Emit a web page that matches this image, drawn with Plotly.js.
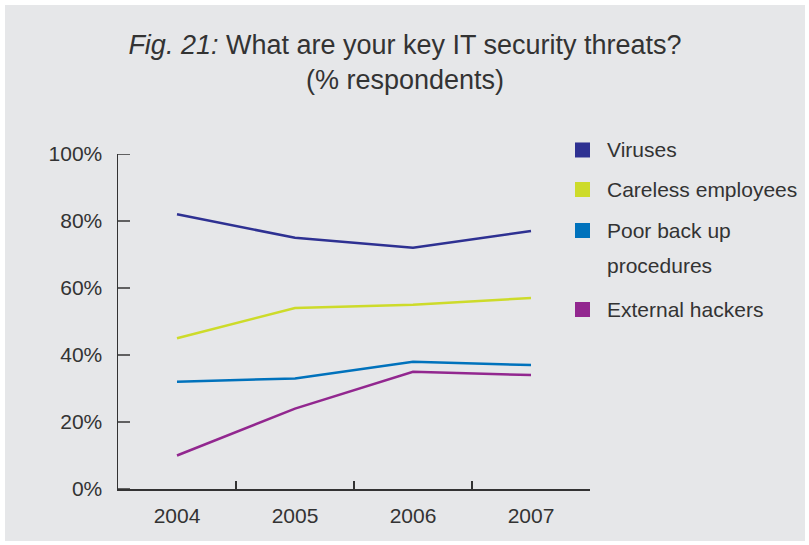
<!DOCTYPE html>
<html>
<head>
<meta charset="utf-8">
<script src="https://cdn.plot.ly/plotly-3.0.1.min.js"></script>
<style>
  html, body { margin: 0; padding: 0; background: #ffffff; }
  #chart { position: absolute; left: 5px; top: 5px; width: 800px; height: 536px; }
</style>
</head>
<body>
<div id="chart"></div>
<script>
// ---- Data ----
const years = ['2004', '2005', '2006', '2007'];
const seriesNames = ['Viruses', 'Careless employees', 'Poor back up procedures', 'External hackers'];
const legendLabels = [['Viruses'], ['Careless employees'], ['Poor back up', 'procedures'], ['External hackers']];
const viruses = [82, 75, 72, 77];
const carelessEmployees = [45, 54, 55, 57];
const poorBackUp = [32, 33, 38, 37];
const externalHackers = [10, 24, 35, 34];
const seriesColors = ['#2e3192', '#cddb2a', '#0072bc', '#92278f'];
const yTicks = [0, 20, 40, 60, 80, 100];

const values = [viruses, carelessEmployees, poorBackUp, externalHackers];
const textColor = '#333333';
const axisColor = '#333333';
const fontFamily = 'Liberation Sans, Arial, sans-serif';

const traces = values.map((v, i) => ({
  type: 'scatter',
  mode: 'lines',
  x: years,
  y: v,
  name: seriesNames[i],
  line: { color: seriesColors[i], width: 2.5 },
  showlegend: false,
  hoverinfo: 'skip'
}));

// Legend built from names/colors (positions in plot-paper fraction)
const legendRowY = [1.012, 0.894, 0.7716, 0.5358];
const lineStep = 0.103;
const annotations = [];
const shapes = [];
legendLabels.forEach((lines, i) => {
  lines.forEach((t, j) => {
    annotations.push({
      xref: 'paper', yref: 'paper',
      x: 1.0318, y: legendRowY[i] - j * lineStep,
      xanchor: 'left', yanchor: 'middle',
      text: t, showarrow: false,
      font: { family: fontFamily, size: 21, color: textColor }
    });
  });
  shapes.push({
    type: 'rect', xref: 'paper', yref: 'paper',
    x0: 0.9682, x1: 1.0, y0: legendRowY[i] - 0.0224, y1: legendRowY[i] + 0.0224,
    fillcolor: seriesColors[i], line: { width: 0 }
  });
});

// inward y-axis tick marks, placed on the y scale at each tick value
yTicks.forEach(v => {
  shapes.push({
    type: 'line', xref: 'paper', yref: 'y',
    x0: 0, x1: 12 / 472, y0: v, y1: v,
    line: { color: axisColor, width: 1.5 }
  });
});

const layout = {
  width: 800, height: 536,
  paper_bgcolor: '#e6e7e9',
  plot_bgcolor: '#e6e7e9',
  margin: { l: 113, r: 215, t: 149, b: 52 },
  title: {
    text: '<i>Fig. 21:</i> What are your key IT security threats?<br>(% respondents)',
    x: 0.5, xanchor: 'center',
    y: 0.908, yanchor: 'top',
    font: { family: fontFamily, size: 27, color: textColor }
  },
  xaxis: {
    type: 'category',
    range: [-0.5, 3.5],
    tickson: 'boundaries',
    ticks: 'inside', ticklen: 8, tickwidth: 1.5, tickcolor: axisColor,
    showline: true, linecolor: axisColor, linewidth: 1.5,
    showgrid: false, zeroline: false,
    ticklabelstandoff: 7,
    tickfont: { family: fontFamily, size: 21, color: textColor },
    fixedrange: true
  },
  yaxis: {
    range: [0, 100],
    tickvals: yTicks,
    ticktext: yTicks.map(v => v + '%'),
    ticks: '',
    showline: true, linecolor: axisColor, linewidth: 1.5,
    showgrid: false, zeroline: false,
    ticklabelstandoff: 10,
    tickfont: { family: fontFamily, size: 21, color: textColor },
    fixedrange: true
  },
  annotations: annotations,
  shapes: shapes,
  showlegend: false
};

Plotly.newPlot('chart', traces, layout, { displayModeBar: false, staticPlot: true });
</script>
</body>
</html>
